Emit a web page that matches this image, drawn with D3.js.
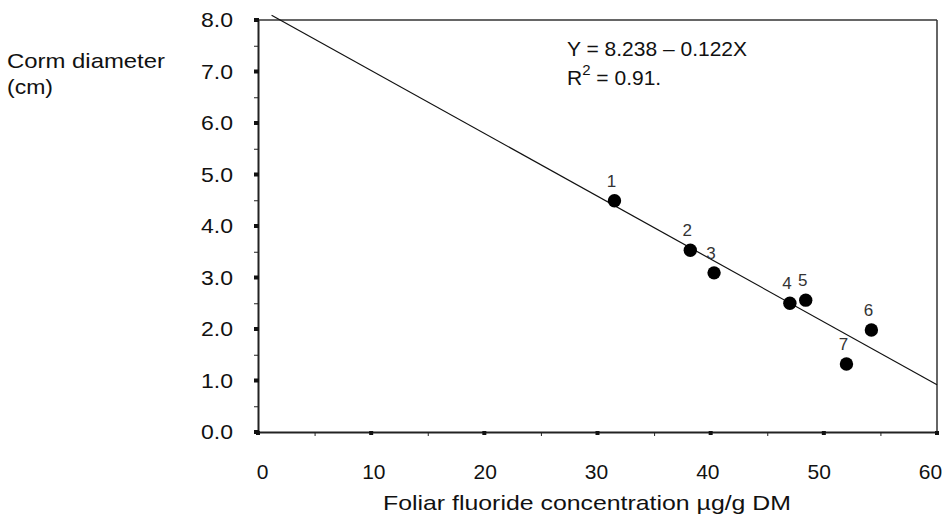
<!DOCTYPE html>
<html><head><meta charset="utf-8">
<script src="https://cdn.jsdelivr.net/npm/d3@7"></script>
<style>
body{margin:0;background:#fff;}
text{font-family:"Liberation Sans",Arial,sans-serif;}
</style></head>
<body><svg id="c" width="951" height="516"></svg>
<script>
// Data
const fluoride = [31.5, 38.2, 40.3, 47.0, 48.4, 54.2, 52.0];
const cormDiameter = [4.49, 3.53, 3.09, 2.50, 2.56, 1.98, 1.32];
const pointLabels = ["1","2","3","4","5","6","7"];
const intercept = 8.238, slope = -0.122;
const lineRange = [1.2, 60];
const xTicks = [0,10,20,30,40,50,60];
const xMinor = [5,15,25,35,45,55];
const yTicks = [0,1,2,3,4,5,6,7,8];
const yMinor = [0.5,1.5,2.5,3.5,4.5,5.5,6.5,7.5];

const svg = d3.select("#c");
const x = d3.scaleLinear().domain([0,60]).range([258,937]);
const xLab = d3.scaleLinear().domain([0,60]).range([262,930]);
const y = d3.scaleLinear().domain([0,8]).range([432,20]);

// frame top & right
svg.append("line").attr("x1",x(0)).attr("x2",x(60)).attr("y1",y(8)).attr("y2",y(8)).attr("stroke","#333").attr("stroke-width",1.5);
svg.append("line").attr("x1",x(60)).attr("x2",x(60)).attr("y1",y(8)).attr("y2",y(0)).attr("stroke","#333").attr("stroke-width",1.5);

// regression line
svg.append("line")
  .attr("x1",x(lineRange[0])).attr("y1",y(intercept+slope*lineRange[0]))
  .attr("x2",x(lineRange[1])).attr("y2",y(intercept+slope*lineRange[1]))
  .attr("stroke","#111").attr("stroke-width",1.2);

// x axis
const gx = svg.append("g").attr("transform",`translate(0,${y(0)})`)
  .call(d3.axisBottom(x).tickValues(xTicks).tickSize(0).tickFormat(""));
gx.select(".domain").attr("stroke","#222").attr("stroke-width",2);
svg.append("g").attr("transform",`translate(0,${y(0)})`)
  .call(d3.axisBottom(x).tickValues(xMinor).tickSize(4).tickFormat(""))
  .call(g=>g.select(".domain").remove())
  .selectAll("line").attr("stroke","#222").attr("stroke-width",1);
svg.append("g").selectAll("rect").data(xTicks).join("rect")
  .attr("x",d=>x(d)-2).attr("y",y(0)-1).attr("width",4).attr("height",4).attr("fill","#111");
svg.append("g").attr("transform",`translate(0,${y(0)+29})`)
  .call(d3.axisBottom(xLab).tickValues(xTicks).tickSize(0).tickFormat(d3.format("d")))
  .call(g=>g.select(".domain").remove())
  .selectAll("text").attr("font-size",21).attr("fill","#111").attr("font-family","Liberation Sans, Arial, sans-serif");

// y axis
const gy = svg.append("g").attr("transform",`translate(${x(0)},0)`)
  .call(d3.axisLeft(y).tickValues(yTicks).tickSize(0).tickPadding(25).tickFormat(d3.format(".1f")));
gy.select(".domain").attr("stroke","#222").attr("stroke-width",2);
gy.selectAll("text").attr("font-size",21).attr("fill","#111").attr("font-family","Liberation Sans, Arial, sans-serif")
  .attr("textLength",32).attr("lengthAdjust","spacingAndGlyphs");
svg.append("g").attr("transform",`translate(${x(0)},0)`)
  .call(d3.axisLeft(y).tickValues(yMinor).tickSize(4).tickFormat(""))
  .call(g=>g.select(".domain").remove())
  .selectAll("line").attr("stroke","#222").attr("stroke-width",1);
svg.append("g").selectAll("rect").data(yTicks).join("rect")
  .attr("x",x(0)-4).attr("y",d=>y(d)-2).attr("width",5).attr("height",4).attr("fill","#111");

// points
svg.append("g").selectAll("circle").data(fluoride).join("circle")
  .attr("cx",d=>x(d)).attr("cy",(d,i)=>y(cormDiameter[i])).attr("r",6.7).attr("fill","#000");
svg.append("g").selectAll("text").data(pointLabels).join("text")
  .attr("x",(d,i)=>x(fluoride[i])-3).attr("y",(d,i)=>y(cormDiameter[i])-14)
  .attr("text-anchor","middle").attr("font-size",17).attr("fill","#333").text(d=>d);

// equation
svg.append("text").attr("x",567).attr("y",56).attr("font-size",21).attr("fill","#111").text("Y = 8.238 \u2013 0.122X");
const r2 = svg.append("text").attr("x",567).attr("y",85).attr("font-size",21).attr("fill","#111");
r2.append("tspan").text("R");
r2.append("tspan").attr("font-size",15).attr("dy",-10).text("2");
r2.append("tspan").attr("dy",10).text(" = 0.91.");

// axis titles
const yt = svg.append("text").attr("font-size",21).attr("fill","#111");
yt.append("tspan").attr("x",7).attr("y",68).attr("textLength",158).attr("lengthAdjust","spacingAndGlyphs").text("Corm diameter");
yt.append("tspan").attr("x",7).attr("y",94).attr("textLength",46).attr("lengthAdjust","spacingAndGlyphs").text("(cm)");
svg.append("text").attr("x",383).attr("y",510).attr("font-size",21).attr("fill","#111")
  .attr("textLength",408).attr("lengthAdjust","spacingAndGlyphs")
  .text("Foliar fluoride concentration \u00b5g/g DM");
</script></body></html>
